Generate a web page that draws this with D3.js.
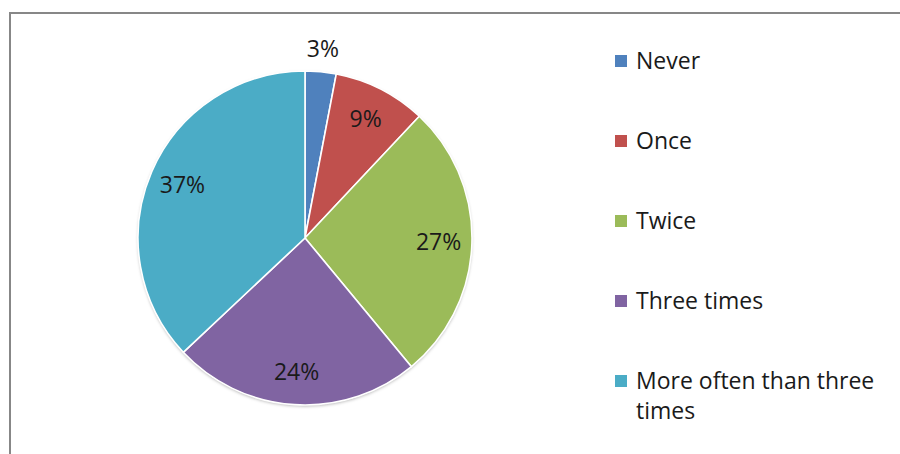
<!DOCTYPE html>
<html>
<head>
<meta charset="utf-8">
<script src="https://cdn.jsdelivr.net/npm/d3@7"></script>
<style>
  html, body { margin: 0; padding: 0; background: #fff; }
  svg { display: block; }
  text { font-family: "Open Sans", Lato, sans-serif; fill: #1a1a1a; }
</style>
</head>
<body>
<div id="chart"></div>
<script>
// ── Data ──
const categories = ["Never", "Once", "Twice", "Three times", "More often than three times"];
const values = [3, 9, 27, 24, 37];
const colors = ["#4F81BD", "#C0504D", "#9BBB59", "#8064A2", "#4BACC6"];
// legend lines (wrapped like the original)
const legendLines = [["Never"], ["Once"], ["Twice"], ["Three times"], ["More often than three", "times"]];

const width = 900, height = 454;
const cx = 305, cy = 238, radius = 167;
const fontPx = 23;

const svg = d3.select("#chart").append("svg")
  .attr("width", width)
  .attr("height", height);

// soft shadow like the office chart
const defs = svg.append("defs");
const f = defs.append("filter").attr("id", "shadow")
  .attr("x", "-10%").attr("y", "-10%").attr("width", "120%").attr("height", "120%");
f.append("feDropShadow")
  .attr("dx", 0).attr("dy", 1.5).attr("stdDeviation", 1.8)
  .attr("flood-color", "#000").attr("flood-opacity", 0.28);

// frame (cropped on right and bottom)
svg.append("rect")
  .attr("x", 10).attr("y", 13)
  .attr("width", 1000).attr("height", 1000)
  .attr("fill", "none")
  .attr("stroke", "#878787")
  .attr("stroke-width", 2);

const data = categories.map((c, i) => ({ name: c, value: values[i], color: colors[i] }));

const pie = d3.pie().sort(null).value(d => d.value);
const arcs = pie(data);

const arc = d3.arc().innerRadius(0).outerRadius(radius);
const labelArc = d3.arc().innerRadius(radius * 0.8).outerRadius(radius * 0.8);
const outerLabelArc = d3.arc().innerRadius(radius + 23).outerRadius(radius + 23);

const g = svg.append("g").attr("transform", `translate(${cx},${cy})`);

g.append("circle")
  .attr("r", radius)
  .attr("fill", "#fff")
  .attr("filter", "url(#shadow)");

g.selectAll("path.slice")
  .data(arcs)
  .join("path")
  .attr("class", "slice")
  .attr("d", arc)
  .attr("fill", d => d.data.color)
  .attr("stroke", "#fff")
  .attr("stroke-width", 1.6)
  .attr("stroke-linejoin", "round");

g.selectAll("text.lbl")
  .data(arcs)
  .join("text")
  .attr("class", "lbl")
  .attr("transform", d => {
    const p = d.data.value < 5 ? outerLabelArc.centroid(d) : labelArc.centroid(d);
    return `translate(${p[0]},${p[1]})`;
  })
  .attr("text-anchor", "middle")
  .attr("dy", "0.36em")
  .style("font-size", `${fontPx}px`)
  .text(d => `${d.data.value}%`);

// ── Legend ──
const legend = svg.append("g").attr("transform", "translate(615,0)");
const rowY = d3.scaleLinear().domain([0, 4]).range([61, 381]);

const item = legend.selectAll("g.item")
  .data(data)
  .join("g")
  .attr("class", "item")
  .attr("transform", (d, i) => `translate(0,${rowY(i)})`);

item.append("rect")
  .attr("x", 0).attr("y", -6)
  .attr("width", 12).attr("height", 12)
  .attr("fill", d => d.color);

item.each(function(d, i) {
  const t = d3.select(this).append("text")
    .attr("x", 21)
    .style("font-size", `${fontPx}px`);
  legendLines[i].forEach((line, j) => {
    t.append("tspan").attr("x", 21).attr("dy", j === 0 ? "0.36em" : 30).text(line);
  });
});
</script>
</body>
</html>
